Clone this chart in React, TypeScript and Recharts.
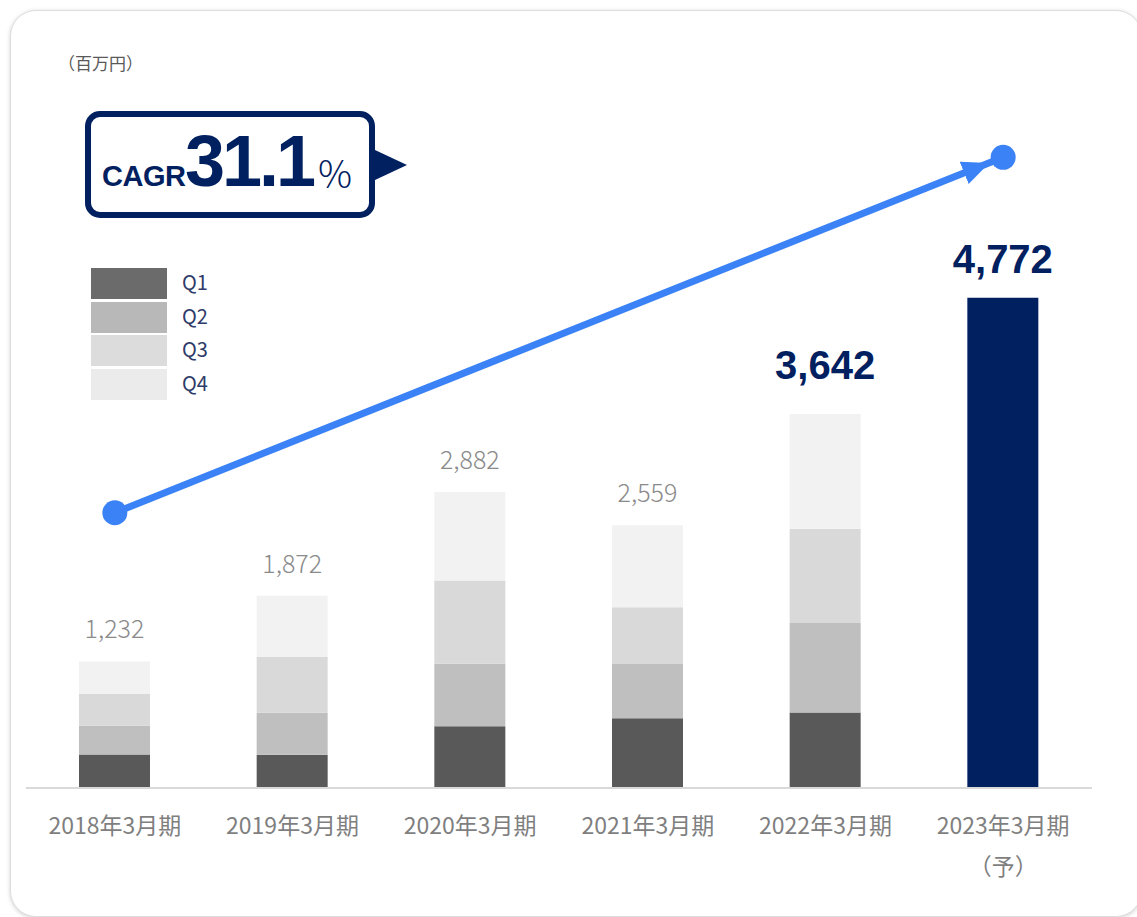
import { ComposedChart, Bar, Line, XAxis, YAxis, LabelList, Legend } from "recharts";

const categories = ["2018年3月期", "2019年3月期", "2020年3月期", "2021年3月期", "2022年3月期", "2023年3月期"];
const categoryNotes = ["", "", "", "", "", "（予）"];
const quarterNames = ["Q1", "Q2", "Q3", "Q4"];
const q1 = [325, 324, 600, 678, 736, null];
const q2 = [280, 409, 610, 530, 870, null];
const q3 = [310, 542, 811, 551, 918, null];
const q4 = [317, 597, 861, 800, 1118, null];
const forecast = [null, null, null, null, null, 4772];
const totals = [1232, 1872, 2882, 2559, 3642, 4772];
// CAGR arrow: start / end heights of the annotation
const cagrLine = [2680, null, null, null, null, 6140];
const highlightIndex = 4;

const barColors = ["#595959", "#bfbfbf", "#d9d9d9", "#f2f2f2"];
const legendColors = ["#6b6b6b", "#b8b8b8", "#dcdcdc", "#ebebeb"];
const NAVY = "#002060";
const BLUE = "#3b82f6";
const FONT = "'Noto Sans CJK JP', 'Noto Sans', sans-serif";
const NUM_FONT = "'Liberation Sans', Arial, sans-serif";

const quarterValues = [q1, q2, q3, q4];
const data = categories.map((name, i) => {
  const row: any = { name, forecast: forecast[i], total: totals[i], cagr: cagrLine[i] };
  quarterNames.forEach((q, k) => {
    row[q] = quarterValues[k][i];
  });
  return row;
});

const fmt = (v: number) => v.toLocaleString("en-US");

function TotalLabel(props: any) {
  const vb = props.viewBox ?? props;
  const { x, y, width } = vb;
  const index = totals.indexOf(Number(props.value));
  if (index < 0 || q4[index] == null) return null;
  const cx = x + width / 2;
  if (index === highlightIndex) {
    return (
      <text x={cx} y={y - 35} textAnchor="middle" fill={NAVY} fontFamily={NUM_FONT} fontWeight={700} fontSize={40}>
        {fmt(totals[index])}
      </text>
    );
  }
  return (
    <text x={cx} y={y - 23} textAnchor="middle" fill="#8a8a8a" fontFamily={FONT} fontWeight={300} fontSize={25}>
      {fmt(totals[index])}
    </text>
  );
}

function ForecastLabel(props: any) {
  const vb = props.viewBox ?? props;
  const { x, y, width } = vb;
  const index = totals.indexOf(Number(props.value));
  if (index < 0 || forecast[index] == null) return null;
  return (
    <text x={x + width / 2} y={y - 25} textAnchor="middle" fill={NAVY} fontFamily={NUM_FONT} fontWeight={700} fontSize={40}>
      {fmt(totals[index])}
    </text>
  );
}

function CategoryTick(props: any) {
  const { x, y, payload } = props;
  const i = categories.indexOf(payload.value);
  return (
    <g>
      <text x={x} y={y + 46} textAnchor="middle" fill="#7f7f7f" fontSize={23} fontFamily={FONT}>
        {payload.value}
      </text>
      {categoryNotes[i] ? (
        <text x={x} y={y + 87} textAnchor="middle" fill="#7f7f7f" fontSize={23} fontFamily={FONT}>
          {categoryNotes[i]}
        </text>
      ) : null}
    </g>
  );
}

function CagrDot(props: any) {
  const { cx, cy, value, index } = props;
  if (value == null || cx == null || cy == null) return <g key={`d-${index}`} />;
  return <circle key={`d-${index}`} cx={cx} cy={cy} r={12.5} fill={BLUE} />;
}

function QuarterLegend() {
  return (
    <div style={{ display: "flex", flexDirection: "column", gap: 2.5 }}>
      {quarterNames.map((q, i) => (
        <div key={q} style={{ display: "flex", alignItems: "center", height: 31 }}>
          <div style={{ width: 76, height: 31, background: legendColors[i] }} />
          <span style={{ marginLeft: 15, marginTop: -3, fontSize: 20, color: "#2f3b68", fontFamily: FONT, lineHeight: 1 }}>{q}</span>
        </div>
      ))}
    </div>
  );
}

export default function App() {
  return (
    <div style={{ position: "absolute", left: 0, top: 0, width: 1137, height: 917, background: "#fff", overflow: "hidden" }}>
      <div
        style={{
          position: "absolute",
          left: 10,
          top: 10,
          width: 1130,
          height: 905,
          borderRadius: 26,
          border: "1px solid #dedede",
          boxShadow: "0 1px 4px rgba(0,0,0,0.18)",
          background: "#fff",
        }}
      />
      <svg width={0} height={0} style={{ position: "absolute" }}>
        <defs>
          <marker
            id="cagrArrow"
            markerUnits="userSpaceOnUse"
            markerWidth={30}
            markerHeight={26}
            refX={42}
            refY={12}
            orient="auto"
          >
            <path d="M0,0 L27,12 L0,24 Z" fill={BLUE} />
          </marker>
        </defs>
      </svg>
      <div style={{ position: "absolute", left: 0, top: 0 }}>
        <ComposedChart width={1137} height={917} data={data} margin={{ top: 69, right: 45, bottom: 69, left: 26 }} barSize={71}>
          <XAxis
            dataKey="name"
            height={60}
            tickLine={false}
            tickSize={0}
            tickMargin={0}
            axisLine={{ stroke: "#d9d9d9", strokeWidth: 2 }}
            tick={<CategoryTick />}
            interval={0}
          />
          <YAxis hide domain={[0, 7000]} />
          {quarterNames.map((q, i) => (
            <Bar key={q} dataKey={q} stackId="a" fill={barColors[i]} isAnimationActive={false}>
              {q === "Q4" ? <LabelList dataKey="total" content={TotalLabel} /> : null}
            </Bar>
          ))}
          <Bar dataKey="forecast" stackId="a" fill={NAVY} isAnimationActive={false}>
            <LabelList dataKey="total" content={ForecastLabel} />
          </Bar>
          <Line
            dataKey="cagr"
            type="linear"
            connectNulls
            stroke={BLUE}
            strokeWidth={7}
            markerEnd="url(#cagrArrow)"
            dot={CagrDot}
            activeDot={false}
            isAnimationActive={false}
          />
          <Legend
            layout="vertical"
            align="center"
            verticalAlign="middle"
            content={() => <QuarterLegend />}
            wrapperStyle={{ left: 91, top: 268, width: "auto", height: "auto" }}
          />
        </ComposedChart>
      </div>
      <svg width={1137} height={917} style={{ position: "absolute", left: 0, top: 0, pointerEvents: "none" }}>
        <text x={58} y={70} fill="#595959" fontSize={17} fontFamily={FONT}>
          （百万円）
        </text>
        <rect x={88} y={114} width={284} height={101} rx={12} fill="#fff" stroke={NAVY} strokeWidth={6} />
        <polygon points="375,150 407,165 375,180" fill={NAVY} />
        <text x={102} y={186} fill={NAVY} fontFamily={NUM_FONT} fontWeight={700} fontSize={29} letterSpacing={-0.5}>
          CAGR
        </text>
        <text x={185} y={186} fill={NAVY} fontFamily={NUM_FONT} fontWeight={700} fontSize={72} letterSpacing={-3}>
          31.1
        </text>
        <text x={318} y={188} fill={NAVY} fontFamily={FONT} fontWeight={300} fontSize={38}>
          %
        </text>
      </svg>
    </div>
  );
}
